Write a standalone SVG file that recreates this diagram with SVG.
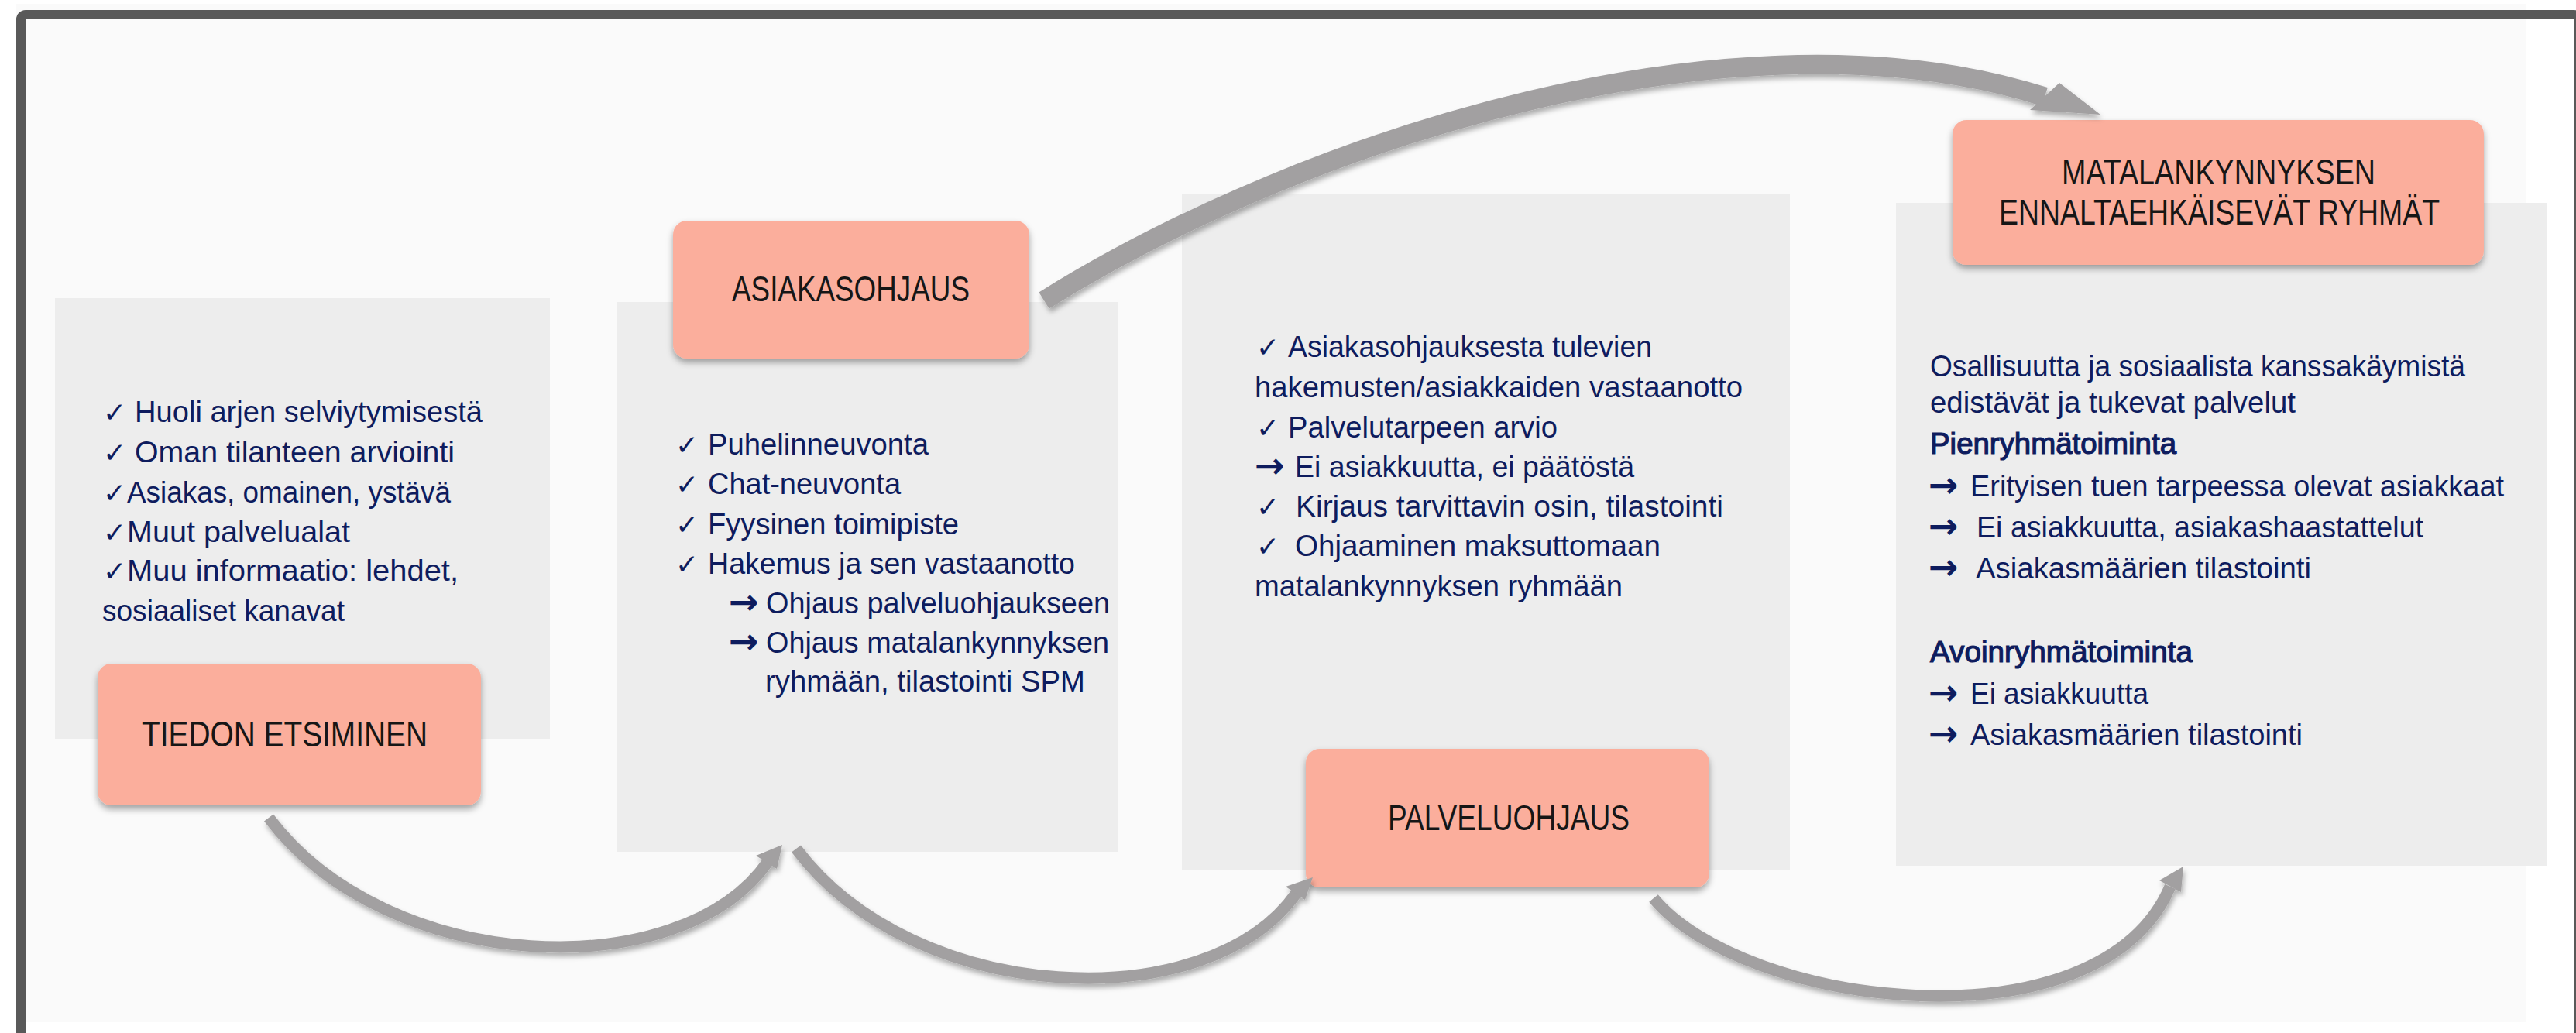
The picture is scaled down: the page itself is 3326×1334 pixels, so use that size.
<svg xmlns="http://www.w3.org/2000/svg" width="3326" height="1334" viewBox="0 0 3326 1334">
  <defs>
    <filter id="sh" x="-10%" y="-10%" width="120%" height="130%">
      <feDropShadow dx="0" dy="5" stdDeviation="4" flood-color="#000" flood-opacity="0.35"/>
    </filter>
    <filter id="ash" x="-10%" y="-10%" width="120%" height="130%">
      <feDropShadow dx="2" dy="5" stdDeviation="3" flood-color="#000" flood-opacity="0.3"/>
    </filter>
    <style>
      .panel { fill: #fafafa; }
      .box { fill: #ededed; }
      .hdr { fill: #fbae9c; filter: url(#sh); }
      .ht { font-family: "Liberation Sans", Arial, sans-serif; font-size: 46px; fill: #161616; }
      .t { font-family: "Liberation Sans", Arial, sans-serif; font-size: 38px; fill: #0e1c5e; }
      .b { stroke: #0e1c5e; stroke-width: 1.2px; }
      .sym { font-family: "DejaVu Sans", sans-serif; font-size: 36px; font-weight: bold; fill: #0e1c5e; }
      .ar { font-family: "DejaVu Sans", sans-serif; font-size: 46px; font-weight: bold; fill: #0e1c5e; }
      .shaft { fill: none; stroke: #a2a0a1; stroke-linecap: butt; }
      .head { fill: #a2a0a1; }
    </style>
  </defs>

  <rect x="0" y="0" width="3326" height="1334" fill="#ffffff"/>
  <rect class="panel" x="21" y="5" width="3241" height="1315"/>
  <rect x="27" y="19" width="3302" height="1330" rx="6" fill="none" stroke="#595959" stroke-width="12"/>

  <g id="node-tiedon-etsiminen">
    <rect class="box" x="71" y="385" width="639" height="569"/>
    <text class="sym" x="133" y="545">✓</text>
    <text class="t" x="174" y="545" textLength="449" lengthAdjust="spacingAndGlyphs">Huoli arjen selviytymisestä</text>
    <text class="sym" x="133" y="597">✓</text>
    <text class="t" x="174" y="597" textLength="413" lengthAdjust="spacingAndGlyphs">Oman tilanteen arviointi</text>
    <text class="sym" x="133" y="649">✓</text>
    <text class="t" x="164" y="649" textLength="418" lengthAdjust="spacingAndGlyphs">Asiakas, omainen, ystävä</text>
    <text class="sym" x="133" y="700">✓</text>
    <text class="t" x="164" y="700" textLength="288" lengthAdjust="spacingAndGlyphs">Muut palvelualat</text>
    <text class="sym" x="133" y="750">✓</text>
    <text class="t" x="164" y="750" textLength="428" lengthAdjust="spacingAndGlyphs">Muu informaatio: lehdet,</text>
    <text class="t" x="132" y="802" textLength="313" lengthAdjust="spacingAndGlyphs">sosiaaliset kanavat</text>
    <rect class="hdr" x="126" y="857" width="495" height="183" rx="18"/>
    <text class="ht" x="183" y="964" textLength="369" lengthAdjust="spacingAndGlyphs">TIEDON ETSIMINEN</text>
  </g>

  <g id="node-asiakasohjaus">
    <rect class="box" x="796" y="390" width="647" height="710"/>
    <rect class="hdr" x="869" y="285" width="460" height="178" rx="18"/>
    <text class="ht" x="945" y="389" textLength="307" lengthAdjust="spacingAndGlyphs">ASIAKASOHJAUS</text>
    <text class="sym" x="872" y="587">✓</text>
    <text class="t" x="914" y="587" textLength="285" lengthAdjust="spacingAndGlyphs">Puhelinneuvonta</text>
    <text class="sym" x="872" y="638">✓</text>
    <text class="t" x="914" y="638" textLength="249" lengthAdjust="spacingAndGlyphs">Chat-neuvonta</text>
    <text class="sym" x="872" y="690">✓</text>
    <text class="t" x="914" y="690" textLength="324" lengthAdjust="spacingAndGlyphs">Fyysinen toimipiste</text>
    <text class="sym" x="872" y="741">✓</text>
    <text class="t" x="914" y="741" textLength="474" lengthAdjust="spacingAndGlyphs">Hakemus ja sen vastaanotto</text>
    <text class="ar" x="941" y="793">→</text>
    <text class="t" x="989" y="792" textLength="444" lengthAdjust="spacingAndGlyphs">Ohjaus palveluohjaukseen</text>
    <text class="ar" x="941" y="844">→</text>
    <text class="t" x="989" y="843" textLength="443" lengthAdjust="spacingAndGlyphs">Ohjaus matalankynnyksen</text>
    <text class="t" x="988" y="893" textLength="413" lengthAdjust="spacingAndGlyphs">ryhmään, tilastointi SPM</text>
  </g>

  <g id="node-palveluohjaus">
    <rect class="box" x="1526" y="251" width="785" height="872"/>
    <text class="sym" x="1622" y="461">✓</text>
    <text class="t" x="1663" y="461" textLength="470" lengthAdjust="spacingAndGlyphs">Asiakasohjauksesta tulevien</text>
    <text class="t" x="1620" y="513" textLength="630" lengthAdjust="spacingAndGlyphs">hakemusten/asiakkaiden vastaanotto</text>
    <text class="sym" x="1622" y="565">✓</text>
    <text class="t" x="1663" y="565" textLength="348" lengthAdjust="spacingAndGlyphs">Palvelutarpeen arvio</text>
    <text class="ar" x="1620" y="617">→</text>
    <text class="t" x="1672" y="616" textLength="438" lengthAdjust="spacingAndGlyphs">Ei asiakkuutta, ei päätöstä</text>
    <text class="sym" x="1622" y="667">✓</text>
    <text class="t" x="1673" y="667" textLength="552" lengthAdjust="spacingAndGlyphs">Kirjaus tarvittavin osin, tilastointi</text>
    <text class="sym" x="1622" y="718">✓</text>
    <text class="t" x="1672" y="718" textLength="472" lengthAdjust="spacingAndGlyphs">Ohjaaminen maksuttomaan</text>
    <text class="t" x="1620" y="770" textLength="475" lengthAdjust="spacingAndGlyphs">matalankynnyksen ryhmään</text>
    <rect class="hdr" x="1686" y="967" width="521" height="179" rx="18"/>
    <text class="ht" x="1792" y="1072" textLength="312" lengthAdjust="spacingAndGlyphs">PALVELUOHJAUS</text>
  </g>

  <g id="node-matalankynnyksen-ryhmat">
    <rect class="box" x="2448" y="262" width="841" height="856"/>
    <rect class="hdr" x="2521" y="155" width="686" height="187" rx="18"/>
    <text class="ht" x="2662" y="238" textLength="405" lengthAdjust="spacingAndGlyphs">MATALANKYNNYKSEN</text>
    <text class="ht" x="2581" y="290" textLength="569" lengthAdjust="spacingAndGlyphs">ENNALTAEHKÄISEVÄT RYHMÄT</text>
    <text class="t" x="2492" y="486" textLength="691" lengthAdjust="spacingAndGlyphs">Osallisuutta ja sosiaalista kanssakäymistä</text>
    <text class="t" x="2492" y="533" textLength="472" lengthAdjust="spacingAndGlyphs">edistävät ja tukevat palvelut</text>
    <text class="t b" x="2492" y="586" textLength="318" lengthAdjust="spacingAndGlyphs">Pienryhmätoiminta</text>
    <text class="ar" x="2490" y="642">→</text>
    <text class="t" x="2544" y="641" textLength="689" lengthAdjust="spacingAndGlyphs">Erityisen tuen tarpeessa olevat asiakkaat</text>
    <text class="ar" x="2490" y="695">→</text>
    <text class="t" x="2552" y="694" textLength="577" lengthAdjust="spacingAndGlyphs">Ei asiakkuutta, asiakashaastattelut</text>
    <text class="ar" x="2490" y="748">→</text>
    <text class="t" x="2551" y="747" textLength="433" lengthAdjust="spacingAndGlyphs">Asiakasmäärien tilastointi</text>
    <text class="t b" x="2492" y="855" textLength="339" lengthAdjust="spacingAndGlyphs">Avoinryhmätoiminta</text>
    <text class="ar" x="2490" y="910">→</text>
    <text class="t" x="2544" y="909" textLength="230" lengthAdjust="spacingAndGlyphs">Ei asiakkuutta</text>
    <text class="ar" x="2490" y="963">→</text>
    <text class="t" x="2544" y="962" textLength="429" lengthAdjust="spacingAndGlyphs">Asiakasmäärien tilastointi</text>
  </g>

  <g id="connectors">
    <g id="arrow-tiedon-asiakasohjaus" filter="url(#ash)">
      <path class="shaft" stroke-width="15" d="M347,1056 C500,1260 880,1275 992,1112"/>
      <polygon class="head" points="1010,1091 976,1105 1003,1122"/>
    </g>
    <g id="arrow-asiakasohjaus-palveluohjaus" filter="url(#ash)">
      <path class="shaft" stroke-width="15" d="M1028,1096 C1181,1300 1561,1315 1674,1153"/>
      <polygon class="head" points="1695,1133 1660,1145 1685,1162"/>
    </g>
    <g id="arrow-palveluohjaus-ryhmat" filter="url(#ash)">
      <path class="shaft" stroke-width="15" d="M2135,1160 C2250,1300 2710,1360 2802,1145"/>
      <polygon class="head" points="2819,1119 2788,1137 2816,1152"/>
    </g>
    <g id="arrow-asiakasohjaus-ryhmat" filter="url(#ash)">
      <path class="shaft" stroke-width="25" d="M1348,388 C1690,175 2250,0 2640,125"/>
      <polygon class="head" points="2712,148 2659,107 2621,142"/>
    </g>
  </g>
</svg>
